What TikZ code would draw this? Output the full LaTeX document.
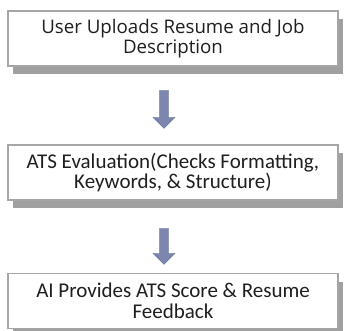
\documentclass[tikz,border=0pt]{standalone}
\usepackage{fontspec}
\setmainfont{Carlito}
\newfontfamily\stepfontA{Open Sans}
\usetikzlibrary{shadows,shapes.arrows}
\definecolor{boxline}{HTML}{A6A6A6}
\definecolor{boxshadow}{HTML}{A0A0A0}
\definecolor{arrowfill}{HTML}{7D86AE}
\definecolor{arrowline}{HTML}{6E779F}
\tikzset{
  stepbox/.style={draw=boxline, line width=1.3pt, fill=white,
    minimum width=330pt, minimum height=55pt, align=center,
    inner sep=0pt, text=black!88,
    drop shadow={shadow xshift=5pt, shadow yshift=-8pt, opacity=1, fill=boxshadow}},
  flowarrow/.style={single arrow, draw=arrowline, fill=arrowfill, line width=0.4pt,
    minimum width=22pt, single arrow head extend=6pt, single arrow head indent=0pt,
    inner sep=0pt, shape border rotate=270, minimum height=38pt, text width=8pt}
}
\begin{document}
\begin{tikzpicture}[x=1pt,y=-1pt]
  \useasboundingbox[fill=white] (0,0) rectangle (345,331);
  \node[stepbox, font=\stepfontA\fontsize{18.7}{19.5}\selectfont] (upload) at (173,38.5)
    {User Uploads Resume and Job\\Description};
  \node[stepbox, font=\fontsize{21}{19.5}\selectfont] (ats) at (173,172.5)
    {ATS Evaluation(Checks Formatting,\\Keywords, \& Structure)};
  \node[stepbox, font=\fontsize{21}{20.5}\selectfont] (score) at (173,301)
    {AI Provides ATS Score \& Resume\\Feedback};
  \node[flowarrow] (a1) at (164,107) {};
  \node[flowarrow, minimum height=36pt] (a2) at (164,244) {};
\end{tikzpicture}
\end{document}
